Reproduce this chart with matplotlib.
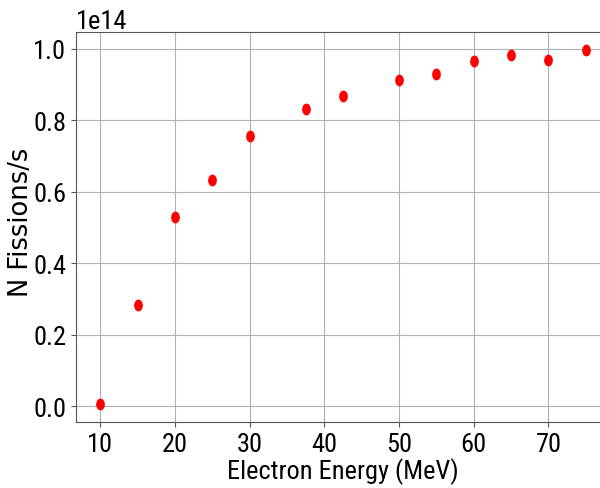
import matplotlib
matplotlib.use("Agg")
import matplotlib.pyplot as plt
import numpy as np
from matplotlib.path import Path
from matplotlib.ticker import MultipleLocator

# electron beam energy vs fission rate
energy = [10, 15, 20, 25, 30, 37.5, 42.5, 50, 55, 60, 65, 70, 75]
fissions = [0.0056e14, 0.282e14, 0.530e14, 0.634e14, 0.756e14, 0.830e14, 0.868e14,
            0.913e14, 0.930e14, 0.966e14, 0.983e14, 0.969e14, 0.997e14]

plt.rcParams['font.family'] = ['Roboto Condensed', 'DejaVu Sans']

# squashed circle so the dots come out taller than wide
circ = Path.unit_circle()
ellipse = Path(circ.vertices * np.array([0.7, 1.0]), circ.codes)

fig = plt.figure(figsize=(6.0, 4.89), dpi=100)
ax = fig.add_axes([0.1267, 0.135, 0.89, 0.7975])

ax.plot(energy, fissions, linestyle='none', marker=ellipse, color='red', markersize=7.5)

ax.xaxis.set_major_locator(MultipleLocator(10))
ax.grid(True, color='#b0b0b0', linewidth=0.8)
ax.set_axisbelow(True)
for s in ax.spines.values():
    s.set_color('#555555')
ax.tick_params(labelsize=19, colors='#555555', labelcolor='black')
ax.yaxis.get_offset_text().set_fontsize(19)

ax.set_xlabel('Electron Energy (MeV)', fontsize=19, labelpad=1)
ax.set_ylabel('N Fissions/s', fontsize=18.5, family='DejaVu Sans')
ax.yaxis.set_label_coords(-0.079, 0.514)

plt.savefig('out.png', dpi=100)
